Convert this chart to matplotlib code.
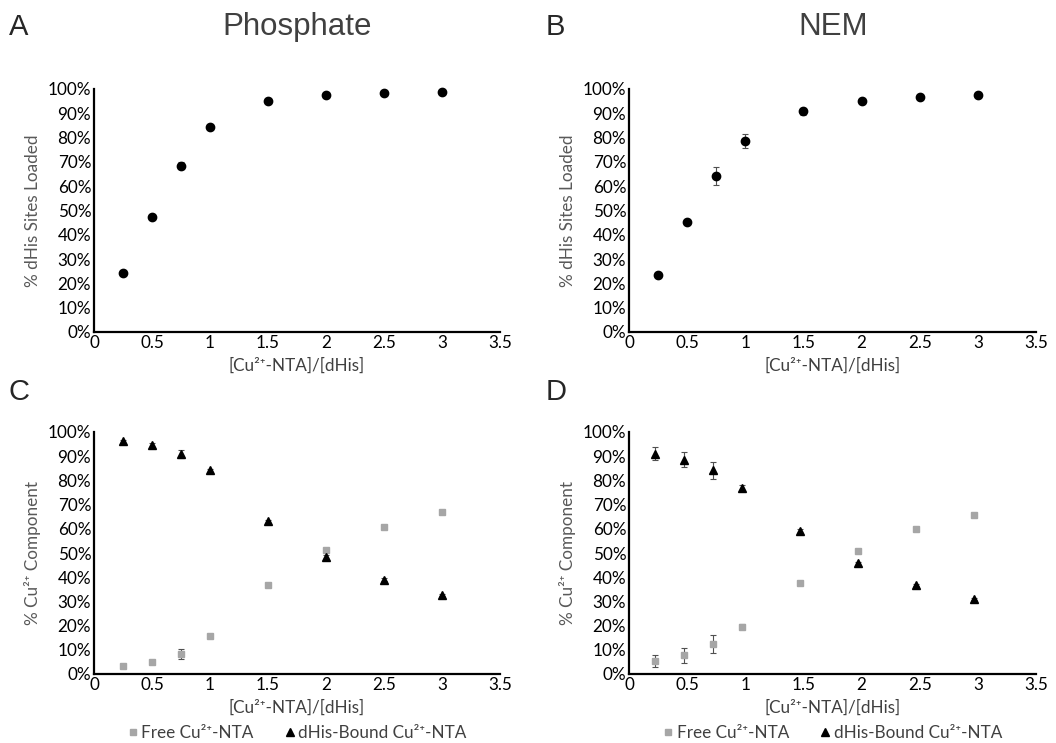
import matplotlib
matplotlib.use('Agg')
import matplotlib.pyplot as plt
from matplotlib.ticker import PercentFormatter

plt.rcParams['font.family'] = ['Lato', 'DejaVu Sans']

# ratio [Cu2+-NTA]/[dHis]
ratio = [0.25, 0.5, 0.75, 1.0, 1.5, 2.0, 2.5, 3.0]
ratio_nem = [0.22, 0.47, 0.72, 0.97, 1.47, 1.97, 2.47, 2.97]

# panel A / B: % dHis sites loaded
loaded_phos = [0.243, 0.475, 0.685, 0.845, 0.952, 0.974, 0.983, 0.988]
loaded_phos_err = [0.005, 0.005, 0.015, 0.006, 0.005, 0.004, 0.004, 0.004]
loaded_nem = [0.234, 0.454, 0.642, 0.786, 0.908, 0.952, 0.967, 0.975]
loaded_nem_err = [0.005, 0.008, 0.039, 0.029, 0.015, 0.007, 0.005, 0.004]

# panel C / D: free vs bound Cu2+ component
free_phos = [0.034, 0.051, 0.084, 0.156, 0.366, 0.514, 0.606, 0.671]
free_phos_err = [0.004, 0.004, 0.02, 0.006, 0.005, 0.005, 0.004, 0.004]
bound_phos = [0.961, 0.946, 0.909, 0.842, 0.631, 0.483, 0.390, 0.325]
bound_phos_err = [0.008, 0.008, 0.015, 0.006, 0.005, 0.008, 0.005, 0.004]
free_nem = [0.052, 0.077, 0.124, 0.196, 0.376, 0.510, 0.598, 0.659]
free_nem_err = [0.025, 0.032, 0.036, 0.012, 0.005, 0.004, 0.004, 0.004]
bound_nem = [0.911, 0.886, 0.841, 0.769, 0.591, 0.457, 0.367, 0.308]
bound_nem_err = [0.025, 0.032, 0.036, 0.012, 0.01, 0.005, 0.005, 0.004]

xticks = [0, 0.5, 1, 1.5, 2, 2.5, 3, 3.5]
xticklabels = ['0', '0.5', '1', '1.5', '2', '2.5', '3', '3.5']

dark = '#404040'
gray = '#595959'
sq_color = '#a6a6a6'
xlabel = '[Cu²⁺-NTA]/[dHis]'

fig = plt.figure(figsize=(10.56, 7.43), dpi=100)
W, H = 1056, 743


def make_ax(x0, x1, ytop, ybot):
    return fig.add_axes([x0 / W, 1 - ybot / H, (x1 - x0) / W, (ybot - ytop) / H])


def style(ax, ylabel):
    ax.set_xlim(0, 3.5)
    ax.set_ylim(0, 1)
    ax.set_xticks(xticks)
    ax.set_xticklabels(xticklabels)
    ax.set_yticks([i / 10 for i in range(11)])
    ax.yaxis.set_major_formatter(PercentFormatter(1.0, decimals=0))
    for s in ['top', 'right']:
        ax.spines[s].set_visible(False)
    for s in ['left', 'bottom']:
        ax.spines[s].set_linewidth(1.6)
        ax.spines[s].set_color('black')
    ax.tick_params(length=0, labelsize=12.3, labelcolor='black', pad=2)
    ax.set_ylabel(ylabel, fontsize=12.3, color=gray, labelpad=5)
    ax.set_xlabel(xlabel, fontsize=12.3, color=dark, labelpad=5)


axA = make_ax(94, 500, 89, 332)
axB = make_ax(629, 1036, 89, 332)
axC = make_ax(94, 500, 432, 674)
axD = make_ax(629, 1036, 432, 674)

err_kw = dict(ecolor='#505050', elinewidth=0.8, capsize=2, capthick=0.8, linestyle='none', clip_on=False)

axA.errorbar(ratio, loaded_phos, yerr=loaded_phos_err, fmt='o', color='black', ms=6, **err_kw)
axB.errorbar(ratio, loaded_nem, yerr=loaded_nem_err, fmt='o', color='black', ms=6, **err_kw)
style(axA, '% dHis Sites Loaded')
style(axB, '% dHis Sites Loaded')

for ax, x, free, ferr, bound, berr in [
    (axC, ratio, free_phos, free_phos_err, bound_phos, bound_phos_err),
    (axD, ratio_nem, free_nem, free_nem_err, bound_nem, bound_nem_err),
]:
    ax.errorbar(x, free, yerr=ferr, fmt='s', color=sq_color, ms=5, label='Free Cu²⁺-NTA', **err_kw)
    ax.errorbar(x, bound, yerr=berr, fmt='^', color='black', ms=5.5, label='dHis-Bound Cu²⁺-NTA', **err_kw)
    style(ax, '% Cu²⁺ Component')
    handles, labels = ax.get_legend_handles_labels()
    handles = [h[0] for h in handles]
    ax.legend(handles, labels, loc='center', bbox_to_anchor=(0.5, -0.243), ncol=2,
              frameon=False, fontsize=12.3, handlelength=0.6, handletextpad=0.2,
              columnspacing=1.8, labelcolor=dark, borderpad=0)

# panel letters and titles
for txt, x, y in [('A', 9, 27), ('B', 546, 27), ('C', 9, 392), ('D', 546, 392)]:
    fig.text(x / W, 1 - y / H, txt, fontsize=21, color='#262626',
             family=['Liberation Sans', 'DejaVu Sans'], va='center', ha='left')
fig.text(297 / W, 1 - 27 / H, 'Phosphate', fontsize=22.5, color=dark,
         family=['Liberation Sans', 'DejaVu Sans'], va='center', ha='center')
fig.text(833 / W, 1 - 27 / H, 'NEM', fontsize=22.5, color=dark,
         family=['Liberation Sans', 'DejaVu Sans'], va='center', ha='center')

fig.savefig('out.png', dpi=100)
